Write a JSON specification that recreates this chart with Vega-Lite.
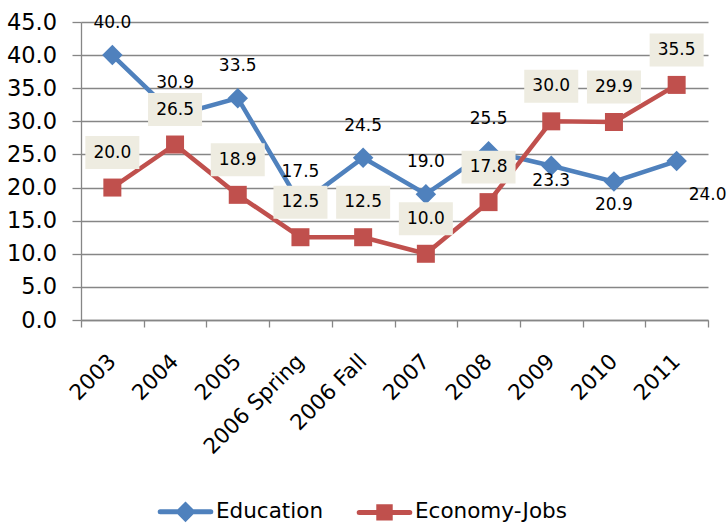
{
  "$schema": "https://vega.github.io/schema/vega-lite/v6.json",
  "autosize": "none",
  "width": 627,
  "height": 298,
  "padding": {"left": 81, "top": 22, "right": 20, "bottom": 205},
  "background": "white",
  "config": {
    "font": "DejaVu Sans",
    "view": {"stroke": null},
    "axis": {"labelFont": "DejaVu Sans", "labelColor": "#000000", "domainColor": "#868686", "tickColor": "#868686", "gridColor": "#868686", "domainWidth": 1.3, "tickWidth": 1.3, "gridWidth": 1.3}
  },
  "data": {
    "values": [
      {"period": "2003", "series": "Education", "value": 40.0},
      {"period": "2004", "series": "Education", "value": 30.9},
      {"period": "2005", "series": "Education", "value": 33.5},
      {"period": "2006 Spring", "series": "Education", "value": 17.5},
      {"period": "2006 Fall", "series": "Education", "value": 24.5},
      {"period": "2007", "series": "Education", "value": 19.0},
      {"period": "2008", "series": "Education", "value": 25.5},
      {"period": "2009", "series": "Education", "value": 23.3},
      {"period": "2010", "series": "Education", "value": 20.9},
      {"period": "2011", "series": "Education", "value": 24.0},
      {"period": "2003", "series": "Economy-Jobs", "value": 20.0},
      {"period": "2004", "series": "Economy-Jobs", "value": 26.5},
      {"period": "2005", "series": "Economy-Jobs", "value": 18.9},
      {"period": "2006 Spring", "series": "Economy-Jobs", "value": 12.5},
      {"period": "2006 Fall", "series": "Economy-Jobs", "value": 12.5},
      {"period": "2007", "series": "Economy-Jobs", "value": 10.0},
      {"period": "2008", "series": "Economy-Jobs", "value": 17.8},
      {"period": "2009", "series": "Economy-Jobs", "value": 30.0},
      {"period": "2010", "series": "Economy-Jobs", "value": 29.9},
      {"period": "2011", "series": "Economy-Jobs", "value": 35.5}
    ]
  },
  "encoding": {
    "x": {
      "field": "period", "type": "nominal", "sort": null,
      "scale": {"paddingInner": 0, "paddingOuter": 0},
      "axis": {"title": null, "labelAngle": -45, "labelAlign": "right", "labelBaseline": "middle", "labelFontSize": 21.5, "tickSize": 7, "labelPadding": 31, "tickBand": "extent", "grid": false}
    },
    "y": {
      "field": "value", "type": "quantitative",
      "scale": {"domain": [0, 45], "nice": false, "zero": true},
      "axis": {"title": null, "values": [0, 5, 10, 15, 20, 25, 30, 35, 40, 45], "format": ".1f", "labelFontSize": 22.5, "tickSize": 9, "labelPadding": 15.5, "grid": true}
    }
  },
  "layer": [
    {
      "mark": {"type": "line", "strokeWidth": 4.5},
      "encoding": {
        "detail": {"field": "series"},
        "color": {
          "field": "series", "type": "nominal",
          "scale": {"domain": ["Education", "Economy-Jobs"], "range": ["#4F81BD", "#C0504D"]},
          "legend": {
            "title": null, "orient": "none", "direction": "horizontal",
            "legendX": 91, "legendY": 476, "padding": 0,
            "symbolSize": 484, "labelOffset": 17, "columnPadding": 25,
            "labelFont": "DejaVu Sans", "labelFontSize": 21.5, "labelColor": "#000000",
            "encode": {
              "symbols": {
                "update": {
                  "shape": {"signal": "datum.value === 'Education' ? 'M-2.3,0H2.3M0,-0.62L0.62,0L0,0.62L-0.62,0Z' : 'M-2.3,0H2.3M-0.52,-0.52H0.52V0.52H-0.52Z'"},
                  "fill": {"scale": "color", "field": "value"},
                  "stroke": {"scale": "color", "field": "value"},
                  "strokeWidth": {"value": 5},
                  "strokeCap": {"value": "round"},
                  "opacity": {"value": 1},
                  "fillOpacity": {"value": 1},
                  "strokeOpacity": {"value": 1}
                }
              }
            }
          }
        }
      }
    },
    {
      "transform": [{"filter": "datum.series === 'Education'"}],
      "mark": {"type": "point", "filled": true, "opacity": 1, "shape": "diamond", "size": 420, "color": "#4F81BD"},
      "encoding": {}
    },
    {
      "transform": [{"filter": "datum.series === 'Economy-Jobs'"}],
      "mark": {"type": "point", "filled": true, "opacity": 1, "shape": "square", "size": 324, "color": "#C0504D"},
      "encoding": {}
    },
    {
      "transform": [{"filter": "datum.series === 'Education' && indexof(['2009','2010','2011'], datum.period) < 0"}],
      "mark": {"type": "text", "fontSize": 17, "font": "DejaVu Sans", "color": "#000000", "dy": -32},
      "encoding": {"text": {"field": "value", "type": "quantitative", "format": ".1f"}}
    },
    {
      "transform": [{"filter": "datum.series === 'Education' && datum.period === '2009'"}],
      "mark": {"type": "text", "fontSize": 17, "font": "DejaVu Sans", "color": "#000000", "dy": 15},
      "encoding": {"text": {"field": "value", "type": "quantitative", "format": ".1f"}}
    },
    {
      "transform": [{"filter": "datum.series === 'Education' && datum.period === '2010'"}],
      "mark": {"type": "text", "fontSize": 17, "font": "DejaVu Sans", "color": "#000000", "dy": 23},
      "encoding": {"text": {"field": "value", "type": "quantitative", "format": ".1f"}}
    },
    {
      "transform": [{"filter": "datum.series === 'Education' && datum.period === '2011'"}],
      "mark": {"type": "text", "fontSize": 17, "font": "DejaVu Sans", "color": "#000000", "dx": 31, "dy": 34},
      "encoding": {"text": {"field": "value", "type": "quantitative", "format": ".1f"}}
    },
    {
      "transform": [{"filter": "datum.series === 'Economy-Jobs'"}],
      "mark": {"type": "point", "filled": true, "color": "#EEECE1", "opacity": 1, "shape": "M-1,-0.61H1V0.61H-1Z", "size": 2916, "yOffset": -35},
      "encoding": {}
    },
    {
      "transform": [{"filter": "datum.series === 'Economy-Jobs'"}],
      "mark": {"type": "text", "fontSize": 17, "font": "DejaVu Sans", "color": "#000000", "dy": -35},
      "encoding": {"text": {"field": "value", "type": "quantitative", "format": ".1f"}}
    }
  ]
}
